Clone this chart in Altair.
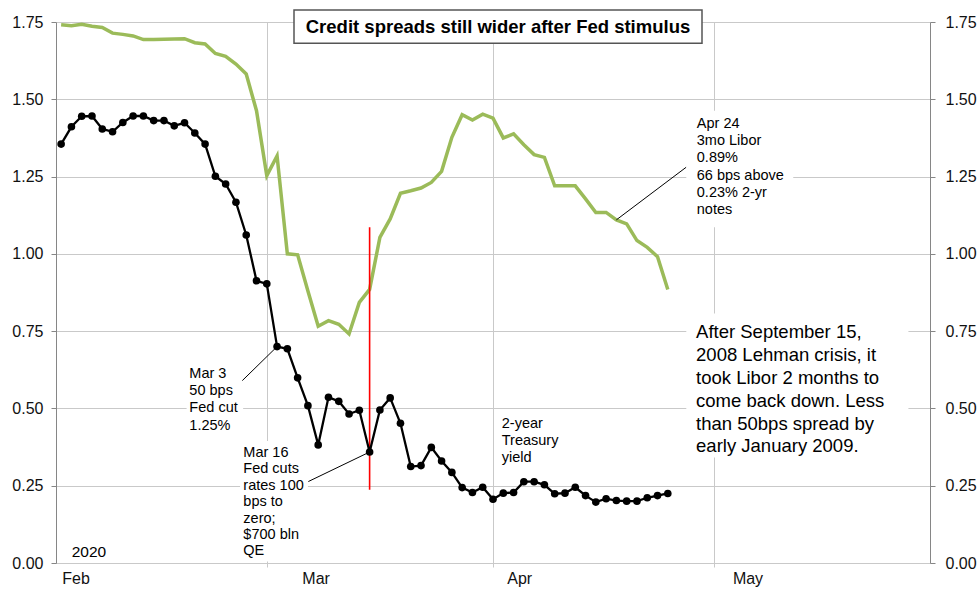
import altair as alt
import pandas as pd

# ---------------- data ----------------
dates = [
    "2020-01-31",
    "2020-02-03", "2020-02-04", "2020-02-05", "2020-02-06", "2020-02-07",
    "2020-02-10", "2020-02-11", "2020-02-12", "2020-02-13", "2020-02-14",
    "2020-02-18", "2020-02-19", "2020-02-20", "2020-02-21",
    "2020-02-24", "2020-02-25", "2020-02-26", "2020-02-27", "2020-02-28",
    "2020-03-02", "2020-03-03", "2020-03-04", "2020-03-05", "2020-03-06",
    "2020-03-09", "2020-03-10", "2020-03-11", "2020-03-12", "2020-03-13",
    "2020-03-16", "2020-03-17", "2020-03-18", "2020-03-19", "2020-03-20",
    "2020-03-23", "2020-03-24", "2020-03-25", "2020-03-26", "2020-03-27",
    "2020-03-30", "2020-03-31",
    "2020-04-01", "2020-04-02", "2020-04-03",
    "2020-04-06", "2020-04-07", "2020-04-08", "2020-04-09", "2020-04-10",
    "2020-04-13", "2020-04-14", "2020-04-15", "2020-04-16", "2020-04-17",
    "2020-04-20", "2020-04-21", "2020-04-22", "2020-04-23", "2020-04-24",
]

treasury_2y = [
    1.355, 1.411, 1.445, 1.446, 1.404, 1.395, 1.425, 1.446, 1.446, 1.431,
    1.431, 1.414, 1.424, 1.391, 1.355, 1.251, 1.226, 1.167, 1.061, 0.913,
    0.903, 0.700, 0.693, 0.599, 0.509, 0.382, 0.536, 0.523, 0.482, 0.494,
    0.359, 0.495, 0.534, 0.452, 0.312, 0.315, 0.374, 0.330, 0.293, 0.244,
    0.228, 0.245, 0.206, 0.226, 0.228, 0.263, 0.263, 0.253, 0.224, 0.226,
    0.245, 0.218, 0.197, 0.208, 0.202, 0.200, 0.200, 0.211, 0.218, 0.225,
]

libor_3m = [
    1.741, 1.738, 1.743, 1.736, 1.732, 1.714, 1.710, 1.705, 1.693, 1.693,
    1.694, 1.695, 1.696, 1.683, 1.679, 1.648, 1.639, 1.614, 1.582, 1.463,
    1.253, 1.317, 1.000, 0.997, 0.880, 0.766, 0.784, 0.772, 0.741, 0.843,
    0.885, 1.053, 1.113, 1.196, 1.204, 1.213, 1.231, 1.267, 1.377, 1.450,
    1.433, 1.452, 1.439, 1.375, 1.388, 1.353, 1.321, 1.312, 1.220, 1.220,
    1.220, 1.178, 1.134, 1.134, 1.110, 1.097, 1.043, 1.021, 0.991, 0.885,
]

y_ticks = [0.0, 0.25, 0.5, 0.75, 1.0, 1.25, 1.5, 1.75]
month_names = ["Feb", "Mar", "Apr", "May"]
month_label_pos = [1.45, 24.8, 44.6, 66.8]      # position on the trading-day index axis
month_grid_pos = [20, 42, 63.5]                 # first trading day of Mar, Apr, (May)

title_text = "Credit spreads still wider after Fed stimulus"

# ---------------- styles ----------------
FONT = "Liberation Sans"
GRID = "#c9c9c9"
AXIS = "#868686"
GREEN = "#9BBB59"
TXT = "#111111"

W, H = 874, 541
X_DOMAIN = [-0.5, 84.5]
Y_DOMAIN = [0, 1.75]

df = pd.DataFrame({
    "idx": list(range(len(dates))),
    "date": dates,
    "treasury": treasury_2y,
    "libor": libor_3m,
})

xs = alt.Scale(domain=X_DOMAIN, nice=False, zero=False)
ys = alt.Scale(domain=Y_DOMAIN, nice=False, zero=True)

X_AXIS = alt.Axis(values=month_grid_pos, labels=False, grid=True, gridColor=GRID,
                  gridWidth=1, tickSize=4, tickColor=GRID, domainColor=GRID, title=None)
Y_AXIS = alt.Axis(values=y_ticks, format=".2f", grid=True, gridColor=GRID,
                  domainColor=AXIS, tickColor=AXIS, tickSize=5, labelPadding=8,
                  labelFont=FONT, labelFontSize=16, labelColor=TXT, title=None)


def X(field):
    return alt.X(field, scale=xs, axis=X_AXIS)


def Y(field):
    return alt.Y(field, scale=ys, axis=Y_AXIS)


i_mar3 = dates.index("2020-03-03")
i_mar16 = dates.index("2020-03-16")
i_apr17 = dates.index("2020-04-17")

# ---------------- layers ----------------
base = alt.Chart(df)

libor_line = base.mark_line(color=GREEN, strokeWidth=3.5, strokeJoin="miter").encode(
    x=X("idx:Q"), y=Y("libor:Q"),
)

treasury_line = base.mark_line(
    color="black", strokeWidth=2.3,
    point=alt.OverlayMarkDef(filled=True, color="black", size=58, opacity=1),
).encode(x=X("idx:Q"), y=Y("treasury:Q"))

# white backing boxes for annotation text (in data units)
boxes = pd.DataFrame({
    "x0": [12.2, 17.4, 60.8, 60.8],
    "x1": [17.7, 24.0, 71.2, 82.4],
    "y0": [0.41, 0.005, 1.086, 0.341],
    "y1": [0.645, 0.395, 1.463, 0.807],
})
box_layer = alt.Chart(boxes).mark_rect(color="white").encode(
    x=X("x0:Q"), x2="x1:Q", y=Y("y0:Q"), y2="y1:Q",
)

red = pd.DataFrame({"x": [i_mar16], "y0": [0.237], "y1": [1.086]})
red_layer = alt.Chart(red).mark_rule(color="#ff0000", strokeWidth=1.6).encode(
    x=X("x:Q"), y=Y("y0:Q"), y2="y1:Q",
)

leaders = pd.DataFrame({
    "x0": [17.62, 24.04, 60.78],
    "y0": [0.590, 0.2635, 1.280],
    "x1": [i_mar3, i_mar16, i_apr17],
    "y1": [treasury_2y[i_mar3], treasury_2y[i_mar16], libor_3m[i_apr17]],
})
leader_layer = alt.Chart(leaders).mark_rule(color="black", strokeWidth=1).encode(
    x=X("x0:Q"), x2="x1:Q", y=Y("y0:Q"), y2="y1:Q",
)


def note(lines, x, y, size, lh):
    d = pd.DataFrame({"x": [x], "y": [y]})
    return alt.Chart(d).mark_text(
        align="left", baseline="middle", font=FONT, fontSize=size,
        lineHeight=lh, color="black",
    ).encode(x=X("x:Q"), y=Y("y:Q"), text=alt.value(lines))


# y = centre of the first line
notes = [
    note(["Mar 3", "50 bps", "Fed cut", "1.25%"], 12.47, 0.612, 14.5, 17.3),
    note(["Mar 16", "Fed cuts", "rates 100", "bps to", "zero;", "$700 bln", "QE"],
         17.72, 0.356, 14.5, 16.4),
    note(["2-year", "Treasury", "yield"], 42.85, 0.450, 14.5, 17),
    note(["Apr 24", "3mo Libor", "0.89%", "66 bps above", "0.23% 2-yr", "notes"],
         61.82, 1.420, 14.5, 17.2),
    note(["After September 15,", "2008 Lehman crisis, it", "took Libor 2 months to",
          "come back down. Less", "than 50bps spread by", "early January 2009."],
         61.75, 0.746, 18.5, 22.8),
    note(["2020"], 1.03, 0.035, 15.5, 18),
]

months = pd.DataFrame({"m": month_names, "x": month_label_pos})
month_layer = alt.Chart(months).mark_text(
    align="center", baseline="middle", font=FONT, fontSize=16, color=TXT,
).encode(x=X("x:Q"), y=alt.value(H + 15.5), text="m:N")

title_box = alt.Chart(pd.DataFrame({"a": [0]})).mark_rect(
    fill="white", stroke="#555555", strokeWidth=1.5,
).encode(
    x=alt.value(238), x2=alt.value(646), y=alt.value(-12), y2=alt.value(21.3),
)
title_layer = alt.Chart(pd.DataFrame({"t": [title_text]})).mark_text(
    align="center", baseline="middle", font=FONT, fontSize=18.5, fontWeight="bold",
    color="black",
).encode(x=alt.value(442), y=alt.value(5), text="t:N")

main = alt.layer(
    libor_line, box_layer, red_layer, treasury_line, leader_layer,
    *notes, month_layer, title_box, title_layer,
)

right_axis = alt.Chart(pd.DataFrame({"v": Y_DOMAIN})).mark_point(opacity=0).encode(
    y=alt.Y("v:Q", scale=ys,
            axis=alt.Axis(orient="right", values=y_ticks, format=".2f", grid=False,
                          domainColor=AXIS, tickColor=AXIS, tickSize=5, labelPadding=10,
                          labelFont=FONT, labelFontSize=16, labelColor=TXT, title=None)),
)

chart = alt.layer(main, right_axis).resolve_scale(y="independent").properties(
    width=W, height=H,
    padding={"left": 56, "top": 22, "right": 50, "bottom": 27},
    autosize=alt.AutoSizeParams(type="none"),
).configure_view(stroke=None)

chart.save("out.html", embed_options={"renderer": "svg", "actions": False})
